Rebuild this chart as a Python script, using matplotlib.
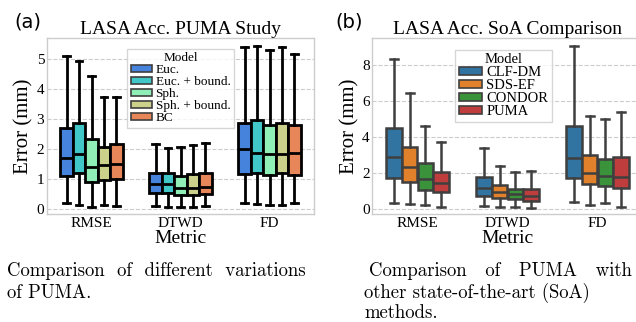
import colorsys
import matplotlib
matplotlib.use("Agg")
import matplotlib.pyplot as plt
from matplotlib.patches import Patch

# 指標とモデル
metrics = ["RMSE", "DTWD", "FD"]

models_a = ["Euc.", "Euc. + bound.", "Sph.", "Sph. + bound.", "BC"]
# [model][metric]
a_whislo = [[0.19, 0.11, 0.19], [0.13, 0.08, 0.17], [0.08, 0.08, 0.14], [0.13, 0.08, 0.12], [0.11, 0.10, 0.19]]
a_q1 = [[1.10, 0.53, 1.18], [1.20, 0.53, 1.21], [0.89, 0.46, 1.13], [0.98, 0.47, 1.19], [1.00, 0.51, 1.14]]
a_med = [[1.71, 0.83, 2.01], [1.82, 0.83, 1.88], [1.40, 0.70, 1.83], [1.46, 0.70, 1.83], [1.51, 0.73, 1.86]]
a_q3 = [[2.71, 1.20, 2.88], [2.87, 1.20, 2.96], [2.32, 1.09, 2.79], [2.07, 1.16, 2.88], [2.18, 1.20, 2.79]]
a_whishi = [[5.11, 2.18, 5.41], [4.93, 2.02, 5.43], [4.44, 2.06, 5.31], [3.73, 2.14, 5.39], [3.73, 2.20, 5.17]]

models_b = ["CLF-DM", "SDS-EF", "CONDOR", "PUMA"]
b_whislo = [[0.37, 0.19, 0.43], [0.30, 0.13, 0.26], [0.22, 0.13, 0.33], [0.11, 0.06, 0.13]]
b_q1 = [[1.74, 0.74, 1.72], [1.50, 0.61, 1.41], [1.07, 0.56, 1.31], [0.94, 0.44, 1.20]]
b_med = [[2.93, 1.20, 2.83], [2.33, 0.94, 2.00], [1.67, 0.83, 1.85], [1.44, 0.72, 1.81]]
b_q3 = [[4.50, 1.81, 4.63], [3.48, 1.35, 3.00], [2.56, 1.13, 2.80], [2.07, 1.15, 2.89]]
b_whishi = [[8.33, 3.43, 9.07], [6.44, 2.41, 5.20], [4.63, 2.06, 5.00], [3.74, 2.13, 5.41]]


def desat(c, p=0.75):
    h, l, s = colorsys.rgb_to_hls(*matplotlib.colors.to_rgb(c))
    return colorsys.hls_to_rgb(h, l, s * p)


rb = plt.get_cmap("rainbow")
colors_a = [desat(rb(x)) for x in [1/6, 2/6, 3/6, 4/6, 5/6]]
colors_b = [desat(c) for c in ["#1f77b4", "#ff7f0e", "#2ca02c", "#d62728"]]

SERIF = "Liberation Serif"


def draw(ax, models, lo, q1, med, q3, hi, colors, ec, lw):
    n = len(models)
    gw = 0.7
    bw = gw / n
    for i in range(n):
        stats = []
        pos = []
        for j in range(len(metrics)):
            stats.append(dict(whislo=lo[i][j], q1=q1[i][j], med=med[i][j], q3=q3[i][j],
                              whishi=hi[i][j], fliers=[]))
            pos.append(j - gw / 2 + bw * (i + 0.5))
        ax.bxp(stats, positions=pos, widths=bw * 0.98, patch_artist=True, showfliers=False,
               boxprops=dict(facecolor=colors[i], edgecolor=ec, linewidth=lw),
               medianprops=dict(color=ec, linewidth=lw),
               whiskerprops=dict(color=ec, linewidth=lw),
               capprops=dict(color=ec, linewidth=lw),
               capwidths=bw * 0.5, manage_ticks=False)
    ax.set_xlim(-0.5, 2.5)
    ax.set_xticks(range(len(metrics)))
    ax.set_xticklabels(metrics, fontfamily=SERIF, fontsize=11)
    ax.tick_params(length=0, pad=2)
    ax.grid(axis="y", linestyle="--", color="#cccccc", linewidth=0.8)
    ax.set_axisbelow(True)
    for s in ax.spines.values():
        s.set_color("#cccccc")
        s.set_linewidth(1.0)
    ax.set_xlabel("Metric", fontfamily=SERIF, fontsize=14, labelpad=0)
    ax.set_ylabel("Error (mm)", fontfamily=SERIF, fontsize=15, labelpad=2)


def legend(ax, models, colors, size, anchor_x):
    hs = [Patch(facecolor=c, edgecolor="#3f3f3f", linewidth=1.2) for c in colors]
    leg = ax.legend(hs, models, title="Model", loc="upper center", bbox_to_anchor=(anchor_x, 0.975),
                    prop=dict(family=SERIF, size=size), labelspacing=0.0, handlelength=1.6,
                    handleheight=0.5, handletextpad=0.3, borderpad=0.25, framealpha=0.8,
                    edgecolor="#cccccc", fancybox=False)
    leg.get_title().set_fontfamily(SERIF)
    leg.get_title().set_fontsize(size)


fig = plt.figure(figsize=(6.36, 3.22), dpi=100)
ax1 = fig.add_axes([47/636, 1 - 214/322, 267/636, 176/322])
ax2 = fig.add_axes([372.5/636, 1 - 214/322, 270/636, 176/322])

draw(ax1, models_a, a_whislo, a_q1, a_med, a_q3, a_whishi, colors_a, "black", 2.0)
ax1.set_ylim(-0.17, 5.7)
ax1.set_yticks(range(6))
ax1.set_title("LASA Acc. PUMA Study", fontfamily=SERIF, fontsize=14, pad=3)

draw(ax2, models_b, b_whislo, b_q1, b_med, b_q3, b_whishi, colors_b, "#3f3f3f", 1.8)
ax2.set_ylim(-0.26, 9.52)
ax2.set_yticks([0, 2, 4, 6, 8])
ax2.set_title("LASA Acc. SoA Comparison", fontfamily=SERIF, fontsize=14, pad=3)

for ax in (ax1, ax2):
    for t in ax.get_yticklabels():
        t.set_fontfamily(SERIF)
        t.set_fontsize(11)

# 凡例
legend(ax1, models_a, colors_a, 9.5, 0.5)
legend(ax2, models_b, colors_b, 10.5, 0.485)

# (a) (b)
fig.text(14/636, 1 - 22/322, "(a)", fontsize=14, family="DejaVu Sans", va="center")
fig.text(335/636, 1 - 22/322, "(b)", fontsize=14, family="DejaVu Sans", va="center")

# キャプション
CM = "cmr10"
fs = 13.5
fig.text(7/636, 1 - 276/322, "Comparison  of  different  variations", fontsize=fs, family=CM, va="baseline")
fig.text(7/636, 1 - 298/322, "of PUMA.", fontsize=fs, family=CM, va="baseline")
fig.text(369/636, 1 - 276/322, "Comparison   of   PUMA   with", fontsize=fs, family=CM, va="baseline")
fig.text(364/636, 1 - 298/322, "other state-of-the-art (SoA)", fontsize=fs, family=CM, va="baseline")
fig.text(364/636, 1 - 318/322, "methods.", fontsize=fs, family=CM, va="baseline")

fig.savefig("out.png", dpi=100)
